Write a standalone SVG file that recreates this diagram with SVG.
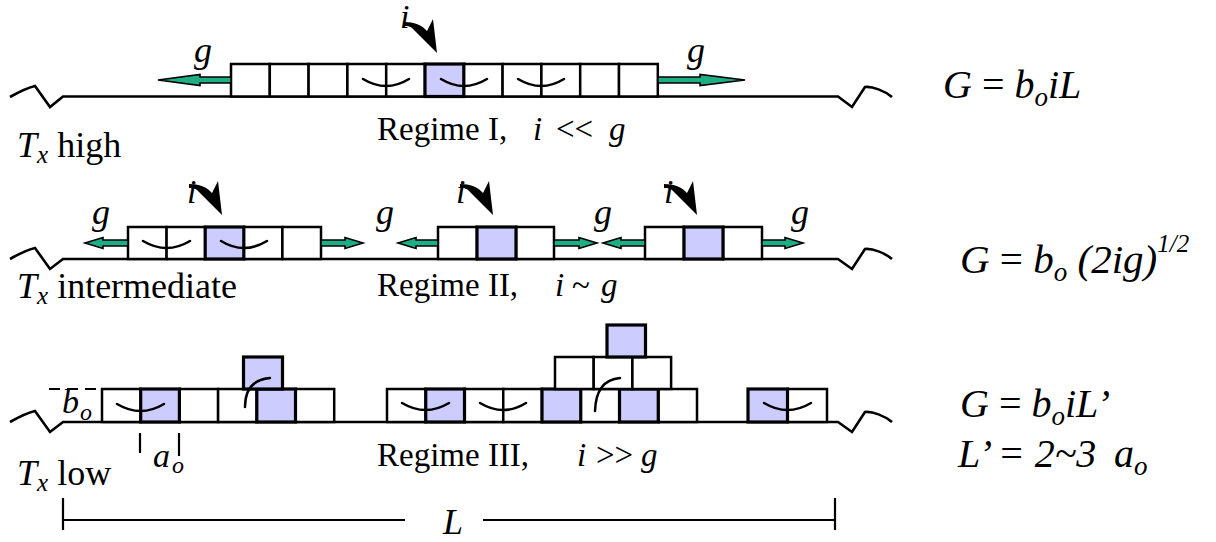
<svg xmlns="http://www.w3.org/2000/svg" width="1216" height="542" viewBox="0 0 1216 542" font-family="'Liberation Serif', 'Times New Roman', 'DejaVu Serif', serif">
  <defs>
    <style>
      text { font-family: "Liberation Serif", "Times New Roman", "DejaVu Serif", serif; fill: #000; }
      .it { font-style: italic; }
      .box { fill: #fff; stroke: #000; stroke-width: 2.5; }
      .ad { fill: #ccccff; stroke: #000; stroke-width: 3.2; }
      .bond { fill: none; stroke: #000; stroke-width: 2.5; stroke-linecap: round; }
      .surf { fill: none; stroke: #000; stroke-width: 2.6; stroke-linejoin: miter; }
      .garrow { fill: #1fae84; stroke: #000; stroke-width: 1.6; stroke-linejoin: miter; }
      .iarrow { fill: #000; }
      .dim { fill: none; stroke: #000; stroke-width: 2.2; }
    </style>
    <!-- curved incoming-flux arrow, tip at the origin -->
    <path id="flux" class="iarrow" d="M0,0 L-4,-34 L-10,-22 C-15,-28 -23,-31 -33,-31 L-33,-27 C-28,-27 -26,-26 -25,-25 Z"/>
  </defs>

  <!-- surface lines with break marks -->
  <g id="surfaces">
    <path class="surf" d="M10,97 C17,93 27,88 35,86 L50,107 L63,96.5 H838 L852,107 L865,87 C872,86 885,91 892,97"/>
    <path class="surf" d="M10,259 C17,255 27,250 35,248 L50,269 L63,259 H838 L852,269 L865,249 C872,248 885,253 892,259"/>
    <path class="surf" d="M10,422 C17,418 27,413 35,411 L50,432 L63,422 H838 L852,432 L865,412 C872,411 885,416 892,422"/>
  </g>

  <!-- Regime I island -->
  <g id="island-1">
    <rect class="box" x="231" y="64" width="38.8" height="32.5"/>
    <rect class="box" x="269.8" y="64" width="38.8" height="32.5"/>
    <rect class="box" x="308.6" y="64" width="38.8" height="32.5"/>
    <rect class="box" x="347.4" y="64" width="38.8" height="32.5"/>
    <rect class="box" x="386.2" y="64" width="38.8" height="32.5"/>
    <rect class="box" x="463.8" y="64" width="38.8" height="32.5"/>
    <rect class="box" x="502.6" y="64" width="38.8" height="32.5"/>
    <rect class="box" x="541.4" y="64" width="38.8" height="32.5"/>
    <rect class="box" x="580.2" y="64" width="38.8" height="32.5"/>
    <rect class="box" x="619" y="64" width="38.8" height="32.5"/>
    <rect class="ad" x="425" y="64" width="38.8" height="32.5"/>
    <path class="bond" d="M363,79 Q386.2,93 409,79"/>
    <path class="bond" d="M441,79 Q463.8,93 487,79"/>
    <path class="bond" d="M518,79 Q541.4,93 564,79"/>
  </g>

  <!-- Regime II islands -->
  <g id="island-2a">
    <rect class="box" x="128" y="227" width="38.6" height="32"/>
    <rect class="box" x="166.6" y="227" width="38.6" height="32"/>
    <rect class="box" x="243.8" y="227" width="38.6" height="32"/>
    <rect class="box" x="282.4" y="227" width="38.6" height="32"/>
    <rect class="ad" x="205.2" y="227" width="38.6" height="32"/>
    <path class="bond" d="M143,241 Q166.6,255 190,241"/>
    <path class="bond" d="M221,241 Q243.8,255 267,241"/>
  </g>
  <g id="island-2b">
    <rect class="box" x="438" y="227" width="39" height="32"/>
    <rect class="box" x="516" y="227" width="38" height="32"/>
    <rect class="ad" x="477" y="227" width="39" height="32"/>
  </g>
  <g id="island-2c">
    <rect class="box" x="645" y="227" width="39" height="32"/>
    <rect class="box" x="723" y="227" width="39" height="32"/>
    <rect class="ad" x="684" y="227" width="39" height="32"/>
  </g>

  <!-- Regime III clusters -->
  <g id="cluster-3a">
    <rect class="box" x="102" y="389" width="38.7" height="33"/>
    <rect class="box" x="179.4" y="389" width="38.7" height="33"/>
    <rect class="box" x="218.1" y="389" width="38.7" height="33"/>
    <rect class="box" x="295.5" y="389" width="38.7" height="33"/>
    <rect class="ad" x="140.7" y="389" width="38.7" height="33"/>
    <rect class="ad" x="256.8" y="389" width="38.7" height="33"/>
    <rect class="ad" x="243.5" y="357" width="39" height="32"/>
    <path class="bond" d="M117,404 Q140.7,418 164,404"/>
    <path class="bond" d="M245,407 Q245,380 270,378"/>
  </g>
  <g id="cluster-3b">
    <rect class="box" x="387" y="389" width="38.75" height="33"/>
    <rect class="box" x="464.5" y="389" width="38.75" height="33"/>
    <rect class="box" x="503.25" y="389" width="38.75" height="33"/>
    <rect class="box" x="580.75" y="389" width="38.75" height="33"/>
    <rect class="box" x="658.25" y="389" width="38.75" height="33"/>
    <rect class="ad" x="425.75" y="389" width="38.75" height="33"/>
    <rect class="ad" x="542" y="389" width="38.75" height="33"/>
    <rect class="ad" x="619.5" y="389" width="38.75" height="33"/>
    <rect class="box" x="555" y="357" width="38.7" height="32"/>
    <rect class="box" x="593.7" y="357" width="38.7" height="32"/>
    <rect class="box" x="632.4" y="357" width="38.7" height="32"/>
    <rect class="ad" x="607" y="325" width="38.5" height="32"/>
    <path class="bond" d="M402,403 Q425.75,417 449,403"/>
    <path class="bond" d="M480,403 Q503.25,417 526,403"/>
    <path class="bond" d="M595,411 Q596,380 620,378"/>
  </g>
  <g id="cluster-3c">
    <rect class="box" x="787.5" y="389" width="39.5" height="33"/>
    <rect class="ad" x="748" y="389" width="39.5" height="33"/>
    <path class="bond" d="M764,403 Q787.5,417 811,403"/>
  </g>

  <!-- growth and flux arrows -->
  <g id="connectors">
    <polygon class="garrow" points="231,77 200,77 200,74.5 158,80 200,85.5 200,83 231,83"/>
    <polygon class="garrow" points="658,77 700,77 700,74.5 745,80 700,85.5 700,83 658,83"/>
    <polygon class="garrow" points="128,240 103,240 103,237.5 85,243 103,248.5 103,246 128,246"/>
    <polygon class="garrow" points="321,240 345,240 345,237.5 363,243 345,248.5 345,246 321,246"/>
    <polygon class="garrow" points="438,240 416,240 416,237.5 398,243 416,248.5 416,246 438,246"/>
    <polygon class="garrow" points="554,240 579,240 579,237.5 597,243 579,248.5 579,246 554,246"/>
    <polygon class="garrow" points="645,240 621,240 621,237.5 603,243 621,248.5 621,246 645,246"/>
    <polygon class="garrow" points="762,240 785,240 785,237.5 803,243 785,248.5 785,246 762,246"/>
    <use href="#flux" x="437" y="53"/>
    <use href="#flux" x="222" y="215"/>
    <use href="#flux" x="493" y="215"/>
    <use href="#flux" x="697" y="215"/>
  </g>

  <!-- flux and growth labels -->
  <g id="rate-labels" font-size="36">
    <text class="it" x="400" y="28" font-size="34">i</text>
    <text class="it" x="187" y="203" font-size="34">i</text>
    <text class="it" x="456" y="203" font-size="34">i</text>
    <text class="it" x="664" y="203" font-size="34">i</text>
    <text class="it" x="194" y="62">g</text>
    <text class="it" x="687" y="62">g</text>
    <text class="it" x="92" y="224">g</text>
    <text class="it" x="376" y="224">g</text>
    <text class="it" x="594" y="224">g</text>
    <text class="it" x="791" y="224">g</text>
  </g>

  <!-- temperature labels -->
  <g id="temperature-labels" font-size="36">
    <text x="17" y="157"><tspan class="it">T</tspan><tspan class="it" font-size="25" dy="6">x</tspan><tspan dy="-6"> high</tspan></text>
    <text x="17" y="298"><tspan class="it">T</tspan><tspan class="it" font-size="25" dy="6">x</tspan><tspan dy="-6"> intermediate</tspan></text>
    <text x="17" y="485"><tspan class="it">T</tspan><tspan class="it" font-size="25" dy="6">x</tspan><tspan dy="-6"> low</tspan></text>
  </g>

  <!-- regime captions -->
  <g id="regime-labels" font-size="33">
    <text x="377" y="140">Regime I,</text>
    <text y="140"><tspan class="it" x="533">i</tspan><tspan x="556">&lt;&lt;</tspan><tspan class="it" x="609">g</tspan></text>
    <text x="377" y="296">Regime II,</text>
    <text y="296"><tspan class="it" x="555">i</tspan><tspan x="572">~</tspan><tspan class="it" x="601">g</tspan></text>
    <text x="377" y="466">Regime III,</text>
    <text y="466"><tspan class="it" x="577">i</tspan><tspan x="596">&gt;&gt;</tspan><tspan class="it" x="641">g</tspan></text>
  </g>

  <!-- step height and lattice spacing -->
  <g id="lattice-dims">
    <line class="dim" x1="49" y1="389" x2="112" y2="389" stroke-dasharray="11,7"/>
    <text class="it" x="62" y="413" font-size="34">b</text>
    <text class="it" x="80" y="420" font-size="24">o</text>
    <line class="dim" x1="140" y1="433" x2="140" y2="453"/>
    <line class="dim" x1="179" y1="433" x2="179" y2="456"/>
    <text class="it" x="153" y="467" font-size="34">a</text>
    <text class="it" x="172" y="473" font-size="24">o</text>
  </g>

  <!-- terrace length -->
  <g id="terrace-length">
    <path class="dim" d="M63,498 V530 M63,520 H405 M483,520 H835 M835,498 V530"/>
    <text class="it" x="443" y="534" font-size="36">L</text>
  </g>

  <!-- growth-rate expressions -->
  <g id="growth-rates" font-size="40">
    <text x="943" y="98"><tspan class="it">G</tspan> = <tspan class="it">b</tspan><tspan class="it" font-size="27" dy="8">o</tspan><tspan class="it" dy="-8">iL</tspan></text>
    <text x="960" y="273" font-size="41"><tspan class="it">G</tspan> = <tspan class="it">b</tspan><tspan class="it" font-size="27" dy="8">o</tspan><tspan class="it" dy="-8"> (2ig)</tspan><tspan class="it" font-size="25" dy="-21">1/2</tspan></text>
    <text x="960" y="417"><tspan class="it">G</tspan> = <tspan class="it">b</tspan><tspan class="it" font-size="27" dy="8">o</tspan><tspan class="it" dy="-8">iL’</tspan></text>
    <text x="958" y="467"><tspan class="it">L’ = 2~3</tspan><tspan class="it" x="1114">a</tspan><tspan class="it" font-size="27" dy="8">o</tspan></text>
  </g>
</svg>
